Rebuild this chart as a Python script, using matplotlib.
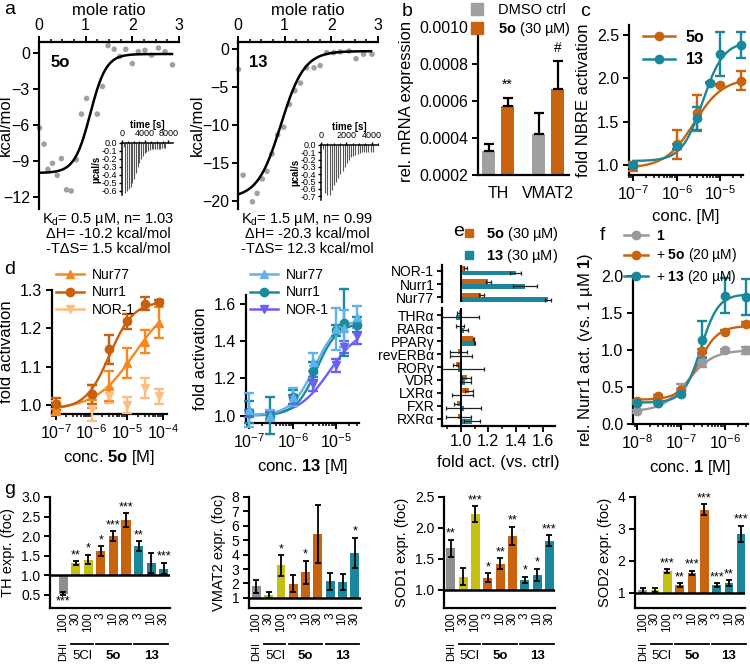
import numpy as np
import matplotlib
matplotlib.use("Agg")
import matplotlib.pyplot as plt
from matplotlib.lines import Line2D
from matplotlib.ticker import MultipleLocator, LogLocator, NullFormatter

plt.rcParams['font.family'] = ['Liberation Sans', 'DejaVu Sans']
plt.rcParams['mathtext.fontset'] = 'custom'
plt.rcParams['mathtext.rm'] = 'Liberation Sans'
plt.rcParams['mathtext.bf'] = 'Liberation Sans:bold'
plt.rcParams['mathtext.it'] = 'Liberation Sans:italic'
plt.rcParams['axes.linewidth'] = 1.6

# ================= COLOURS ================= #
ORANGE = '#c8640f'
TEAL = '#1b879a'
GREY = '#a0a0a2'
YELLOW = '#c3c012'
DHI_GREY = '#8e8e8e'

# ================= DATA: a (ITC) ================= #
RATIO_5O = [0.01, 0.11, 0.19, 0.29, 0.39, 0.48, 0.59, 0.69, 0.80, 0.91, 1.02, 1.25,
            1.36, 1.48, 1.61, 1.73, 1.86, 2.00, 2.13, 2.27, 2.41, 2.56, 2.70, 2.86]
HEAT_5O = [-6.25, -7.6, -9.7, -9.2, -10.2, -8.8, -11.4, -11.5, -8.9, -5.1, -3.8, -5.1,
           -2.8, 0.6, 0.3, -0.3, 0.3, -0.9, 0.1, 0.2, -0.2, 0.4, 0.1, -1.0]
FIT_5O = (-10.0, -0.1, 1.1, 0.17)          # bottom, top, midpoint, width

RATIO_13 = [0.01, 0.11, 0.31, 0.41, 0.52, 0.62, 0.73, 0.85, 0.98, 1.10, 1.22, 1.34,
            1.47, 1.63, 1.76, 1.90, 2.05, 2.19, 2.38, 2.53, 2.69, 2.87]
HEAT_13 = [-2.7, -16.6, -20.1, -19.0, -17.1, -16.1, -13.8, -11.3, -10.3, -7.3, -5.5, -4.5,
           -2.5, -2.5, -2.2, -0.5, -0.5, -0.4, -0.3, -1.3, -0.7, -0.7]
FIT_13 = (-19.6, -0.3, 0.92, 0.25)

# raw thermogram peaks (µcal/s)
PEAKS_5O = [-0.05, -0.62, -0.60, -0.57, -0.55, -0.50, -0.45, -0.38, -0.30, -0.25, -0.20,
            -0.16, -0.13, -0.11, -0.10, -0.09, -0.08, -0.08, -0.07, -0.07, -0.07, -0.07,
            -0.06, -0.06, -0.06]
PEAK_STEP_5O = 300
PEAKS_13 = [-0.05, -0.65, -0.68, -0.68, -0.62, -0.55, -0.50, -0.45, -0.40, -0.35, -0.30,
            -0.25, -0.20, -0.17, -0.15, -0.13, -0.12, -0.11, -0.10, -0.10, -0.10, -0.10,
            -0.10, -0.10]
PEAK_STEP_13 = 170

# ================= DATA: b ================= #
B_GENES = ['TH', 'VMAT2']
B_DMSO = [0.000331, 0.000424]
B_DMSO_ERR = [0.000036, 0.000112]
B_5O = [0.000575, 0.000664]
B_5O_ERR = [0.000043, 0.000154]
B_MARKS = ['**', '#']

# ================= DATA: c ================= #
C_CONC_5O = [1e-7, 1e-6, 3e-6, 1e-5, 3e-5]
C_5O = [0.99, 1.24, 1.60, 1.92, 1.97]
C_5O_ERR = [0.05, 0.165, 0.21, 0.01, 0.11]
C_FIT_5O = (0.97, 2.0, -5.6, 1.3)           # bottom, top, logEC50, hill
C_CONC_13 = [1e-7, 1e-6, 3e-6, 6e-6, 1e-5, 3e-5]
C_13 = [1.0, 1.22, 1.54, 1.95, 2.28, 2.38]
C_13_ERR = [0.02, 0.03, 0.13, 0.01, 0.25, 0.15]
C_FIT_13 = (1.05, 2.42, -5.4, 1.8)

# ================= DATA: d ================= #
D1_CONC = [1e-7, 1e-6, 3e-6, 1e-5, 3e-5, 7.5e-5]
D1_NUR77 = [0.989, 1.023, 1.05, 1.11, 1.165, 1.215]
D1_NUR77_ERR = [0.015, 0.03, 0.04, 0.04, 0.03, 0.04]
D1_NURR1 = [1.003, 1.028, 1.146, 1.218, 1.264, 1.27]
D1_NURR1_ERR = [0.015, 0.025, 0.038, 0.02, 0.017, 0.005]
D1_NOR1 = [1.0, 0.99, 1.025, 1.0, 1.045, 1.023]
D1_NOR1_ERR = [0.01, 0.03, 0.02, 0.02, 0.027, 0.02]
D1_FIT_NUR77 = (0.99, 1.28, -4.8, 0.8)
D1_FIT_NURR1 = (0.99, 1.27, -5.5, 1.3)

D2_CONC = [1e-7, 3e-7, 1e-6, 3e-6, 1e-5, 1.5e-5, 3e-5]
D2_NUR77 = [1.03, 1.0, 1.10, 1.29, 1.466, 1.47, 1.53]
D2_NUR77_ERR = [0.09, 0.03, 0.05, 0.05, 0.115, 0.1, 0.06]
D2_NURR1 = [1.02, 1.0, 1.10, 1.24, 1.46, 1.50, 1.49]
D2_NURR1_ERR = [0.06, 0.1, 0.04, 0.05, 0.03, 0.18, 0.04]
D2_NOR1 = [1.01, 1.0, 1.08, 1.17, 1.27, 1.37, 1.43]
D2_NOR1_ERR = [0.02, 0.02, 0.03, 0.04, 0.035, 0.03, 0.045]
D2_FIT_NUR77 = (1.0, 1.52, -5.5, 1.6)
D2_FIT_NURR1 = (1.0, 1.50, -5.45, 1.8)
D2_FIT_NOR1 = (1.0, 1.48, -5.15, 1.2)

# ================= DATA: e ================= #
E_NR4A = ['NOR-1', 'Nurr1', 'Nur77']
E_NR4A_5O = [1.03, 1.20, 1.15]
E_NR4A_5O_ERR = [0.01, 0.02, 0.02]
E_NR4A_13 = [1.40, 1.47, 1.64]
E_NR4A_13_ERR = [0.04, 0.09, 0.02]
E_OTHER = ['THRα', 'RARα', 'PPARγ', 'revERBα', 'RORγ', 'VDR', 'LXRα', 'FXR', 'RXRα']
E_OTHER_5O = [0.983, 0.99, 1.09, 0.98, 0.96, 1.04, 1.06, 0.97, 0.98]
E_OTHER_5O_ERR = [0.01, 0.03, 0.005, 0.06, 0.02, 0.03, 0.03, 0.02, 0.09]
E_OTHER_13 = [0.96, 1.02, 1.10, 1.0, 0.98, 1.03, 1.01, 1.02, 1.08]
E_OTHER_13_ERR = [0.17, 0.03, 0.005, 0.08, 0.19, 0.04, 0.08, 0.13, 0.06]

# ================= DATA: f ================= #
F_CONC = [1e-8, 3e-8, 1e-7, 3e-7, 1e-6, 3e-6]
F_1 = [0.175, 0.29, 0.48, 0.84, 1.0, 1.0]
F_1_ERR = [0.02, 0.02, 0.06, 0.07, 0.02, 0.05]
F_5O = [0.31, 0.375, 0.46, 0.99, 1.25, 1.36]
F_5O_ERR = [0.02, 0.02, 0.02, 0.03, 0.02, 0.02]
F_13 = [0.29, 0.29, 0.40, 1.14, 1.74, 1.72]
F_13_ERR = [0.02, 0.02, 0.02, 0.25, 0.24, 0.24]
F_FIT_1 = (0.17, 1.0, -6.85, 1.5)
F_FIT_5O = (0.33, 1.33, -6.6, 2.0)
F_FIT_13 = (0.29, 1.76, -6.55, 2.2)

# ================= DATA: g ================= #
G_DOSES = ['100', '30', '100', '3', '10', '30', '3', '10', '30']
G_COLORS = [DHI_GREY, YELLOW, YELLOW, ORANGE, ORANGE, ORANGE, TEAL, TEAL, TEAL]
G_TH = [0.53, 1.30, 1.40, 1.62, 2.00, 2.40, 1.74, 1.31, 1.17]
G_TH_ERR = [0.04, 0.05, 0.12, 0.12, 0.12, 0.18, 0.13, 0.25, 0.15]
G_TH_STARS = ['***', '**', '*', '*', '***', '***', '**', '', '***']
G_VMAT2 = [1.80, 1.18, 3.25, 1.99, 2.79, 5.43, 2.15, 2.13, 4.14]
G_VMAT2_ERR = [0.45, 0.2, 0.7, 0.6, 0.8, 2.0, 0.6, 0.55, 1.05]
G_VMAT2_STARS = ['', '', '*', '', '*', '', '', '', '*']
G_SOD1 = [1.67, 1.21, 2.22, 1.19, 1.42, 1.87, 1.16, 1.24, 1.79]
G_SOD1_ERR = [0.14, 0.14, 0.13, 0.07, 0.09, 0.15, 0.05, 0.10, 0.09]
G_SOD1_STARS = ['**', '', '***', '*', '**', '**', '*', '*', '***']
G_SOD2 = [1.08, 1.08, 1.68, 1.24, 1.62, 3.60, 1.24, 1.31, 2.85]
G_SOD2_ERR = [0.08, 0.06, 0.06, 0.06, 0.07, 0.17, 0.06, 0.09, 0.25]
G_SOD2_STARS = ['', '', '***', '**', '***', '***', '***', '**', '***']

# ================= HELPERS ================= #
W, H = 750, 664
fig = plt.figure(figsize=(W / 100, H / 100), dpi=100)

TICK = 11.5
LABEL = 12


def px_axes(x0, y0, x1, y1):
    return fig.add_axes([x0 / W, 1 - y1 / H, (x1 - x0) / W, (y1 - y0) / H])


def fx(x):
    return x / W


def fy(y):
    return 1 - y / H


def sigmoid(x, bottom, top, mid, width):
    return bottom + (top - bottom) / (1 + np.exp(-(x - mid) / width))


def hill(conc, bottom, top, logec, h):
    return bottom + (top - bottom) / (1 + 10 ** ((logec - np.log10(conc)) * h))


def prism(ax, fs=TICK):
    ax.spines[['top', 'right']].set_visible(False)
    ax.tick_params(which='major', labelsize=fs, width=1.4, length=4.5, pad=2.5)
    ax.tick_params(which='minor', width=1.1, length=2.5)


def logx(ax, lo, hi):
    ax.set_xscale('log')
    ax.set_xlim(lo, hi)
    ax.xaxis.set_major_locator(LogLocator(base=10, numticks=20))
    ax.xaxis.set_minor_locator(LogLocator(base=10, subs=np.arange(2, 10), numticks=20))
    ax.xaxis.set_minor_formatter(NullFormatter())


def curve(ax, conc, vals, errs, fit, color, marker, ms=6, lw=1.7):
    ax.errorbar(conc, vals, yerr=errs, fmt=marker, color=color, ms=ms, elinewidth=lw,
                capsize=3.5, capthick=lw, clip_on=False, zorder=3)
    if fit is not None:
        xs = np.logspace(np.log10(conc[0]), np.log10(conc[-1]), 200)
        ax.plot(xs, hill(xs, *fit), color=color, lw=lw, zorder=2)


def line_legend(items, x, y, fs=10.5, spacing=0.25, hl=2.0):
    handles = [Line2D([], [], color=c, marker=m, ms=6, lw=1.8) for c, m, _ in items]
    labels = [t for _, _, t in items]
    fig.legend(handles, labels, loc='upper left', bbox_to_anchor=(fx(x), fy(y)),
               frameon=False, fontsize=fs, handlelength=hl, handletextpad=0.6,
               labelspacing=spacing, borderpad=0, borderaxespad=0)


def panel_label(ch, x, y):
    fig.text(fx(x), fy(y), ch, fontsize=14, ha='left', va='center')


# ================= PANEL a ================= #
def itc(ax, ratio, heat, fit, yticks, ylim, name, label_x):
    ax.spines[['right', 'bottom']].set_visible(False)
    ax.tick_params(which='major', labelsize=TICK, width=1.4, length=4.5, pad=2)
    ax.tick_params(which='minor', width=1.1, length=2.5)
    ax.tick_params(axis='x', which='both', top=True, bottom=False, labeltop=True, labelbottom=False)
    ax.xaxis.set_label_position('top')
    ax.set_xlim(0, 3)
    ax.set_ylim(*ylim)
    ax.set_xticks([0, 1, 2, 3])
    ax.xaxis.set_minor_locator(MultipleLocator(0.25))
    ax.set_yticks(yticks)
    ax.set_xlabel('mole ratio', fontsize=LABEL, labelpad=2)
    ax.set_ylabel('kcal/mol', fontsize=LABEL)
    ax.yaxis.set_label_coords(label_x, 0.5)
    ax.scatter(ratio, heat, s=16, color=GREY, edgecolors='none', clip_on=False, zorder=2)
    xs = np.linspace(0, 2.85, 200)
    ax.plot(xs, sigmoid(xs, *fit), color='k', lw=1.8, zorder=3)
    ax.text(0.08, 0.88, name, transform=ax.transAxes, fontsize=12, fontweight='bold',
            va='center')


def thermogram(ax, peaks, step, xmax, xticks, ymin):
    ax.spines[['right', 'bottom']].set_visible(False)
    ax.tick_params(labelsize=6.5, width=1.0, length=2.5, pad=1)
    ax.tick_params(axis='x', which='both', top=True, bottom=False, labeltop=True,
                   labelbottom=False)
    ax.xaxis.set_label_position('top')
    ax.set_xlim(0, xmax)
    ax.set_ylim(ymin, 0)
    ax.set_xticks(xticks)
    ax.xaxis.set_minor_locator(MultipleLocator(1000 if xmax > 5000 else 500))
    ax.tick_params(which='minor', width=0.8, length=1.5)
    yt = np.round(np.arange(0, ymin - 0.01, -0.1), 1)
    ax.set_yticks(yt)
    ax.set_yticklabels([f'{v:.1f}' for v in yt])
    ax.set_xlabel('time [s]', fontsize=7, fontweight='bold', labelpad=1)
    ax.set_ylabel('µcal/s', fontsize=7, fontweight='bold', labelpad=0)
    for ln in ax.spines.values():
        ln.set_linewidth(1.1)
    t = step * (np.arange(len(peaks)) + 1)
    ax.vlines(t, 0, peaks, color='#555555', lw=0.8)
    ax.patch.set_alpha(0)


ax = px_axes(39, 42, 179, 209)
itc(ax, RATIO_5O, HEAT_5O, FIT_5O, [0, -3, -6, -9, -12], (-13, 0.9), '5o', -0.185)
ax = px_axes(122, 143, 173, 195)
thermogram(ax, PEAKS_5O, PEAK_STEP_5O, 8800, [0, 4000, 8000], -0.65)

ax = px_axes(238, 42, 378, 209)
itc(ax, RATIO_13, HEAT_13, FIT_13, [0, -5, -10, -15, -20], (-21.05, 0.9), '13', -0.24)
ax = px_axes(321, 145, 378, 200)
thermogram(ax, PEAKS_13, PEAK_STEP_13, 4500, [0, 2000, 4000], -0.75)

for cx, lines in [(108, ['K$_\\mathrm{d}$= 0.5 µM, n= 1.03', 'ΔH= -10.2 kcal/mol', '-TΔS= 1.5 kcal/mol']),
                  (307, ['K$_\\mathrm{d}$= 1.5 µM, n= 0.99', 'ΔH= -20.3 kcal/mol', '-TΔS= 12.3 kcal/mol'])]:
    for i, s in enumerate(lines):
        fig.text(fx(cx), fy(219 + 15 * i), s, fontsize=10.5, ha='center', va='center')

# ================= PANEL b ================= #
ax = px_axes(478, 27, 569, 175)
prism(ax)
xb = np.arange(len(B_GENES))
ax.bar(xb - 0.19, B_DMSO, width=0.26, color=GREY, bottom=0)
ax.bar(xb + 0.19, B_5O, width=0.26, color=ORANGE, bottom=0)
ax.errorbar(xb - 0.19, B_DMSO, yerr=[np.zeros(2), B_DMSO_ERR], fmt='none', ecolor='k',
            elinewidth=1.6, capsize=3.5, capthick=1.6)
ax.errorbar(xb + 0.19, B_5O, yerr=[np.zeros(2), B_5O_ERR], fmt='none', ecolor='k',
            elinewidth=1.6, capsize=3.5, capthick=1.6)
for xi, v, e, m in zip(xb, B_5O, B_5O_ERR, B_MARKS):
    ax.text(xi + 0.19, v + e + 0.00003, m, ha='center', va='bottom', fontsize=10)
ax.set_ylim(0.0002, 0.001)
ax.set_xlim(-0.4, 1.42)
ax.set_yticks([0.0002, 0.0004, 0.0006, 0.0008, 0.0010])
ax.set_yticklabels(['0.0002', '0.0004', '0.0006', '0.0008', '0.0010'])
ax.set_xticks(xb)
ax.set_xticklabels(B_GENES)
ax.tick_params(axis='x', length=0, pad=8)
ax.set_ylabel('rel. mRNA expression', fontsize=LABEL)
fig.legend([Line2D([], [], marker='s', ls='none', color=GREY, ms=9),
            Line2D([], [], marker='s', ls='none', color=ORANGE, ms=9)],
           ['DMSO ctrl', '$\\mathbf{5o}$ (30 µM)'], loc='upper left',
           bbox_to_anchor=(fx(470), fy(3)), frameon=False, fontsize=10.5,
           handlelength=1.0, handletextpad=0.9, labelspacing=0.2, borderpad=0,
           borderaxespad=0)

# ================= PANEL c ================= #
ax = px_axes(629, 25, 743, 175)
prism(ax)
logx(ax, 10 ** -7.1, 10 ** -4.47)
curve(ax, C_CONC_5O, C_5O, C_5O_ERR, C_FIT_5O, ORANGE, 'o')
curve(ax, C_CONC_13, C_13, C_13_ERR, C_FIT_13, TEAL, 'o')
ax.set_ylim(0.89, 2.61)
ax.set_yticks([1.0, 1.5, 2.0, 2.5])
ax.set_yticklabels(['1.0', '1.5', '2.0', '2.5'])
ax.set_ylabel('fold NBRE activation', fontsize=LABEL)
ax.set_xlabel('conc. [M]', fontsize=LABEL)
line_legend([(ORANGE, 'o', '$\\mathbf{5o}$'), (TEAL, 'o', '$\\mathbf{13}$')], 643, 29,
            fs=11.5, spacing=0.4)

# ================= PANEL d ================= #
ax = px_axes(52, 290, 167, 414)
prism(ax)
logx(ax, 10 ** -7.1, 10 ** -3.9)
C77, C1, CN = '#f5891f', '#c6600e', '#fbbf84'
curve(ax, D1_CONC, D1_NOR1, D1_NOR1_ERR, None, CN, 'v')
curve(ax, D1_CONC, D1_NUR77, D1_NUR77_ERR, D1_FIT_NUR77, C77, '^')
curve(ax, D1_CONC, D1_NURR1, D1_NURR1_ERR, D1_FIT_NURR1, C1, 'o')
ax.set_ylim(0.977, 1.30)
ax.set_yticks([1.0, 1.1, 1.2, 1.3])
ax.set_yticklabels(['1.0', '1.1', '1.2', '1.3'])
ax.set_ylabel('fold activation', fontsize=LABEL)
ax.set_xlabel('conc. $\\mathbf{5o}$ [M]', fontsize=LABEL)
line_legend([(C77, '^', 'Nur77'), (C1, 'o', 'Nurr1'), (CN, 'v', 'NOR-1')], 56, 268, fs=10)

ax = px_axes(246, 295, 359, 423)
prism(ax)
logx(ax, 10 ** -7.08, 10 ** -4.47)
B77, B1, BN = '#5fb3ec', '#1b8a99', '#6d5ff5'
curve(ax, D2_CONC, D2_NOR1, D2_NOR1_ERR, D2_FIT_NOR1, BN, 'v')
curve(ax, D2_CONC, D2_NURR1, D2_NURR1_ERR, D2_FIT_NURR1, B1, 'o')
curve(ax, D2_CONC, D2_NUR77, D2_NUR77_ERR, D2_FIT_NUR77, B77, '^')
ax.set_ylim(0.96, 1.65)
ax.set_yticks([1.0, 1.2, 1.4, 1.6])
ax.set_yticklabels(['1.0', '1.2', '1.4', '1.6'])
ax.set_ylabel('fold activation', fontsize=LABEL)
ax.set_xlabel('conc. $\\mathbf{13}$ [M]', fontsize=LABEL)
line_legend([(B77, '^', 'Nur77'), (B1, 'o', 'Nurr1'), (BN, 'v', 'NOR-1')], 250, 268, fs=10)


# ================= PANEL e ================= #
def e_bars(ax, names, v5, e5, v13, e13):
    y = np.arange(len(names))
    kw = dict(fmt='none', ecolor='#222222', elinewidth=0.9, capsize=1.5, capthick=0.9)
    ax.barh(y - 0.18, np.array(v5) - 1, left=1, height=0.34, color=ORANGE)
    ax.barh(y + 0.18, np.array(v13) - 1, left=1, height=0.34, color=TEAL)
    ax.errorbar(v5, y - 0.18, xerr=e5, **kw)
    ax.errorbar(v13, y + 0.18, xerr=e13, **kw)
    ax.axvline(1.0, color='k', lw=1.4)
    ax.set_yticks(y)
    ax.set_yticklabels(names)
    ax.spines[['top', 'right']].set_visible(False)
    ax.tick_params(labelsize=10, width=1.3, length=3.5, pad=2)
    ax.set_xlim(0.86, 1.69)


ax = px_axes(442, 265, 555, 302)
e_bars(ax, E_NR4A, E_NR4A_5O, E_NR4A_5O_ERR, E_NR4A_13, E_NR4A_13_ERR)
ax.set_ylim(2.35, -0.43)
ax.spines['bottom'].set_visible(False)
ax.tick_params(axis='x', which='both', bottom=False, labelbottom=False)

ax = px_axes(442, 308, 555, 426)
e_bars(ax, E_OTHER, E_OTHER_5O, E_OTHER_5O_ERR, E_OTHER_13, E_OTHER_13_ERR)
ax.set_ylim(8.54, -0.54)
ax.set_xticks([1.0, 1.2, 1.4, 1.6])
ax.set_xticklabels(['1.0', '1.2', '1.4', '1.6'])
ax.xaxis.set_minor_locator(MultipleLocator(0.1))
ax.tick_params(axis='x', labelsize=TICK, length=4)
ax.tick_params(axis='x', which='minor', width=1.1, length=2.5)
ax.set_xlabel('fold act. (vs. ctrl)', fontsize=LABEL)
fig.legend([Line2D([], [], marker='s', ls='none', color=ORANGE, ms=6),
            Line2D([], [], marker='s', ls='none', color=TEAL, ms=6)],
           ['$\\mathbf{5o}$ (30 µM)', '$\\mathbf{13}$ (30 µM)'], loc='upper left',
           bbox_to_anchor=(fx(463), fy(225)), frameon=False, fontsize=10.5,
           handlelength=0.8, handletextpad=0.8, labelspacing=0.3, borderpad=0,
           borderaxespad=0)

# ================= PANEL f ================= #
ax = px_axes(633, 275, 748, 424)
prism(ax)
logx(ax, 10 ** -8.09, 10 ** -5.48)
curve(ax, F_CONC, F_1, F_1_ERR, F_FIT_1, '#999999', 'o')
curve(ax, F_CONC, F_5O, F_5O_ERR, F_FIT_5O, ORANGE, 'o')
curve(ax, F_CONC, F_13, F_13_ERR, F_FIT_13, TEAL, 'o')
ax.set_ylim(0, 2.02)
ax.set_yticks([0, 0.5, 1.0, 1.5, 2.0])
ax.set_yticklabels(['0.0', '0.5', '1.0', '1.5', '2.0'])
ax.set_ylabel('rel. Nurr1 act. (vs. 1 µM $\\mathbf{1}$)', fontsize=LABEL)
ax.set_xlabel('conc. $\\mathbf{1}$ [M]', fontsize=LABEL)
line_legend([('#999999', 'o', '$\\mathbf{1}$'), (ORANGE, 'o', '+ $\\mathbf{5o}$ (20 µM)'),
             (TEAL, 'o', '+ $\\mathbf{13}$ (20 µM)')], 624, 229, fs=10, spacing=0.25, hl=1.7)


# ================= PANEL g ================= #
def g_panel(ax, vals, errs, stars, ylim, yticks, ylabel, xlim):
    x = np.arange(len(vals))
    prism(ax, fs=10)
    ax.bar(x, np.array(vals) - 1, bottom=1, width=0.72, color=G_COLORS, zorder=2)
    ax.errorbar(x, vals, yerr=errs, fmt='none', ecolor='k', elinewidth=1.3, capsize=2,
                capthick=1.3, zorder=3)
    ax.axhline(1, color='k', lw=1.8, zorder=4)
    for xi, v, e, s in zip(x, vals, errs, stars):
        if not s:
            continue
        if v >= 1:
            ax.text(xi, v + e, s, ha='center', va='bottom', fontsize=9)
        else:
            ax.text(xi, v - e, s, ha='center', va='top', fontsize=9)
    ax.set_xlim(*xlim)
    ax.set_ylim(*ylim)
    ax.set_yticks(yticks)
    ax.set_yticklabels([f'{t:g}' if max(yticks) > 3.5 else f'{t:.1f}' for t in yticks])
    ax.set_xticks(x)
    ax.set_xticklabels(G_DOSES, rotation=90, fontsize=8.5)
    ax.tick_params(axis='x', length=0, pad=3)
    ax.set_ylabel(ylabel, fontsize=10.5)
    tr = ax.get_xaxis_transform()
    ax.text(0, -0.31, 'DHI', transform=tr, rotation=90, ha='center', va='top', fontsize=8)
    for lo, hi, name, bold in [(1, 2, '5Cl', False), (3, 5, '5o', True), (6, 8, '13', True)]:
        ax.plot([lo - 0.36, hi + 0.36], [-0.32, -0.32], transform=tr, color='k', lw=1.3,
                clip_on=False)
        ax.text((lo + hi) / 2, -0.43, name, transform=tr, ha='center', va='center',
                fontsize=9.5, fontweight='bold' if bold else 'normal')


g_panel(px_axes(50, 497, 170, 608), G_TH, G_TH_ERR, G_TH_STARS, (0.16, 3.0),
        [0.5, 1.0, 1.5, 2.0, 2.5, 3.0], 'TH expr. (foc)', (-1.05, 8.5))
g_panel(px_axes(249, 497, 361, 608), G_VMAT2, G_VMAT2_ERR, G_VMAT2_STARS, (0.3, 8.0),
        [1, 2, 3, 4, 5, 6, 7, 8], 'VMAT2 expr. (foc)', (-0.6, 8.5))
g_panel(px_axes(444, 497, 555, 608), G_SOD1, G_SOD1_ERR, G_SOD1_STARS, (0.7, 2.5),
        [1.0, 1.5, 2.0, 2.5], 'SOD1 expr. (foc)', (-0.55, 8.45))
g_panel(px_axes(635, 497, 745, 608), G_SOD2, G_SOD2_ERR, G_SOD2_STARS, (0.53, 4.0),
        [1, 2, 3, 4], 'SOD2 expr. (foc)', (-0.62, 8.3))

# ================= PANEL LABELS ================= #
for ch, x, y in [('a', 4, 10), ('b', 402, 12), ('c', 580, 12), ('d', 4, 270),
                 ('e', 453, 232), ('f', 600, 235), ('g', 4, 490)]:
    panel_label(ch, x, y)

fig.savefig('out.png', dpi=100)
